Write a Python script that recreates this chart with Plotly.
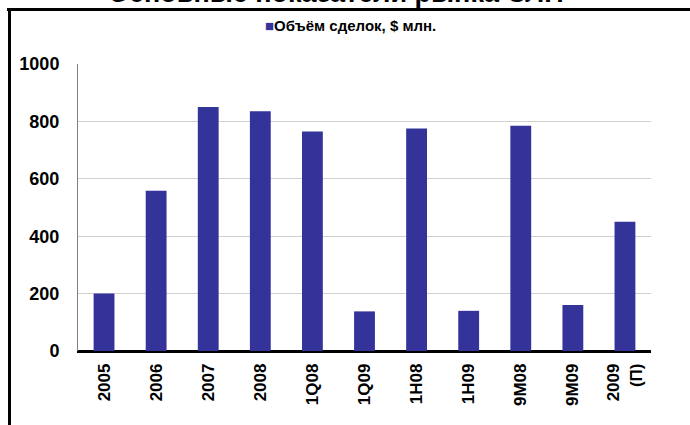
import plotly.graph_objects as go

categories = ["2005", "2006", "2007", "2008", "1Q08", "1Q09", "1H08", "1H09", "9M08", "9M09", "2009<br>(П)"]
values = [200, 558, 850, 835, 765, 138, 775, 140, 785, 160, 450]
series_name = "Объём сделок, $ млн."
series_color = "#333399"
y_ticks = [0, 200, 400, 600, 800, 1000]
title_text = "Основные показатели рынка СЛП"

W, H = 690, 425
L, R, T, B = 78, 39, 64, 74
pw, ph = W - L - R, H - T - B

def px(x):
    return (x - L) / pw

def py(y):
    return (H - B - y) / ph

fig = go.Figure()
fig.add_trace(go.Bar(
    x=categories, y=values, name=series_name,
    marker=dict(color=series_color, line=dict(width=0)),
    showlegend=False,
))

fig.update_layout(
    width=W, height=H,
    margin=dict(l=L, r=R, t=T, b=B, autoexpand=False),
    plot_bgcolor="white", paper_bgcolor="white",
    bargap=0.6,
    font=dict(family="Liberation Sans, Arial", color="black"),
    xaxis=dict(
        type="category", tickangle=-90, showgrid=False, automargin=False,
        showline=True, linecolor="black", linewidth=1.5,
        tickfont=dict(size=17, weight="bold", color="black"),
        ticks="", ticklabelstandoff=4,
    ),
    yaxis=dict(
        range=[0, 1000], tickvals=y_ticks, ticktext=[str(v) for v in y_ticks],
        showgrid=True, gridcolor="#d0d0d0", gridwidth=1, automargin=False,
        showline=True, linecolor="#808080", linewidth=1,
        zeroline=True, zerolinecolor="black", zerolinewidth=1.5,
        tickfont=dict(size=18, weight="bold", color="black"),
        ticks="", ticklabelstandoff=14,
    ),
    shapes=[
        dict(type="line", xref="paper", yref="paper", x0=px(7), x1=px(691), y0=py(9.5), y1=py(9.5),
             line=dict(color="black", width=3)),
        dict(type="line", xref="paper", yref="paper", x0=px(9.5), x1=px(9.5), y0=py(9.5), y1=py(430),
             line=dict(color="black", width=3)),
    ],
    annotations=[
        dict(text="<b>" + title_text + "</b>", xref="paper", yref="paper",
             x=px(336), y=py(-6.5), xanchor="center", yanchor="middle", showarrow=False,
             font=dict(size=27, color="black", family="Liberation Sans, Arial")),
        dict(text="<span style='color:" + series_color + "'>■</span><b>" + series_name + "</b>",
             xref="paper", yref="paper", x=px(263), y=py(26), xanchor="left", yanchor="middle",
             showarrow=False,
             font=dict(size=15, color="black", family="Liberation Sans, Arial")),
    ],
)

fig.write_html("out.html", config={"displayModeBar": False},
               post_script="document.body.style.margin='0';document.body.style.overflow='hidden';")
